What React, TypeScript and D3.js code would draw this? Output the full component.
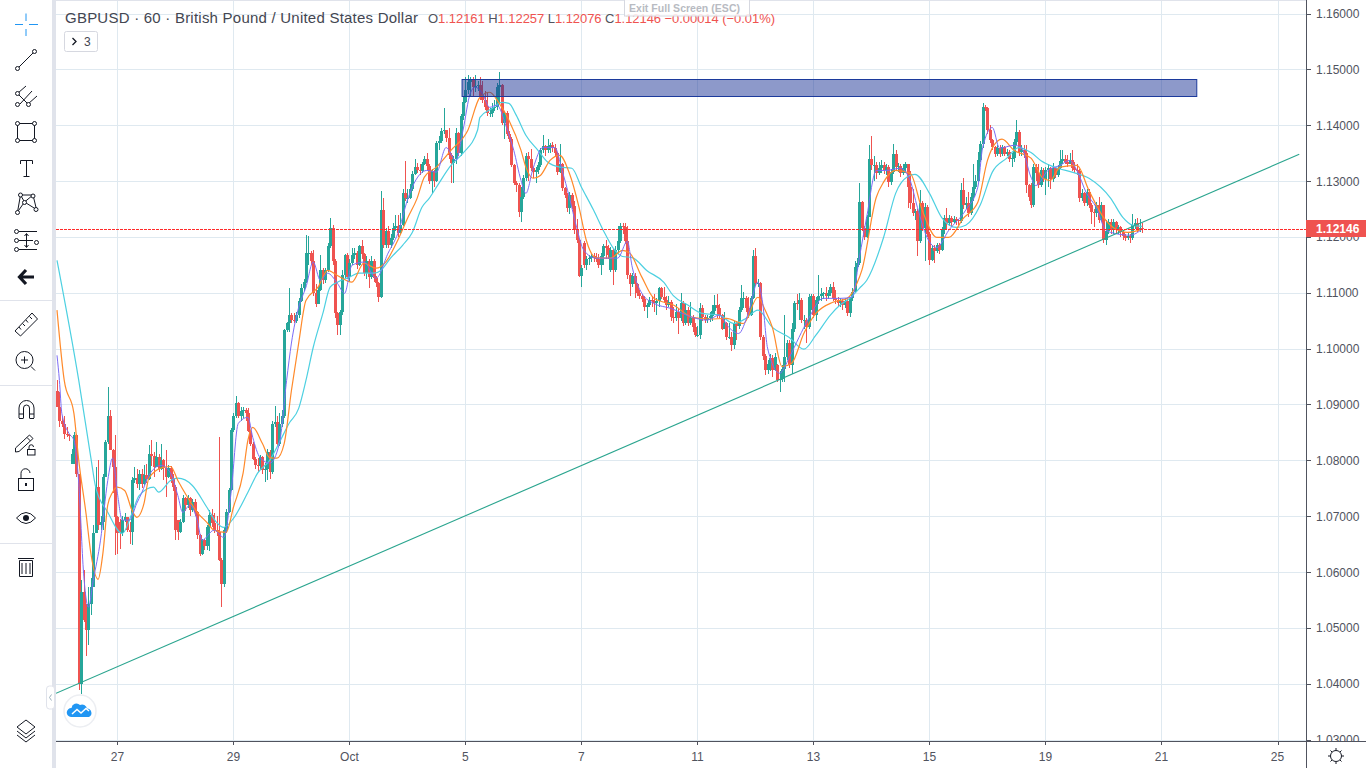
import React from "react";
import * as d3 from "d3";

// GBPUSD hourly candles. Prices are written in pips (10000 = 1.0000); one column per bar.
const firstOpen = 10925;
const closes = [
  10895,10871,10865,10848,10846,10844,10812,10845,10776,10400,
  10565,10514,10497,10543,10574,10669,10752,10684,10690,10770,
  10833,10879,10818,10788,10699,10669,10669,10693,10699,10675,
  10672,10764,10769,10758,10776,10758,10773,10767,10812,10808,
  10788,10806,10785,10800,10787,10770,10787,10767,10752,10675,
  10672,10690,10732,10720,10732,10711,10726,10708,10666,10633,
  10657,10647,10681,10702,10687,10675,10672,10622,10579,10675,
  10708,10746,10854,10879,10902,10880,10888,10890,10885,10853,
  10830,10803,10791,10790,10806,10782,10785,10815,10779,10865,
  10868,10830,10865,10880,11033,11045,11060,11052,11050,11060,
  11086,11108,11120,11171,11171,11156,11100,11080,11105,11141,
  11123,11141,11183,11216,11156,11063,11042,11066,11132,11168,
  11129,11153,11168,11171,11150,11183,11170,11135,11156,11129,
  11156,11126,11117,11093,11249,11186,11210,11186,11198,11216,
  11219,11207,11222,11279,11270,11270,11285,11312,11326,11320,
  11318,11330,11339,11327,11300,11318,11300,11368,11371,11389,
  11392,11377,11347,11332,11340,11386,11350,11416,11442,11463,
  11478,11481,11468,11470,11472,11450,11445,11433,11421,11421,
  11430,11432,11469,11472,11404,11421,11385,11376,11329,11296,
  11293,11245,11272,11305,11345,11340,11323,11317,11320,11329,
  11355,11362,11355,11362,11364,11360,11350,11317,11330,11287,
  11275,11251,11275,11255,11212,11195,11130,11145,11150,11160,
  11162,11165,11163,11160,11150,11165,11183,11180,11168,11177,
  11141,11177,11192,11219,11217,11192,11131,11115,11130,11115,
  11100,11094,11088,11074,11078,11087,11085,11082,11085,11108,
  11093,11087,11078,11084,11057,11055,11065,11055,11082,11045,
  11069,11045,11055,11039,11024,11024,11072,11057,11051,11055,
  11058,11067,11078,11072,11060,11036,11045,11021,11021,11006,
  11045,11040,11070,11090,11090,11072,11060,11090,11166,11117,
  11118,11020,10986,10962,10973,10984,10961,10985,10944,10945,
  10964,10985,11010,10970,11036,11081,11080,11087,11051,11052,
  11039,11093,11095,11060,11087,11094,11097,11100,11095,11100,
  11110,11090,11087,11081,11085,11078,11085,11063,11090,11102,
  11147,11153,11263,11216,11200,11236,11340,11328,11328,11314,
  11323,11328,11320,11325,11298,11317,11349,11326,11327,11315,
  11323,11330,11290,11260,11242,11247,11193,11260,11216,11254,
  11205,11159,11180,11174,11186,11176,11212,11233,11225,11233,
  11227,11232,11230,11228,11284,11257,11260,11242,11272,11290,
  11300,11338,11367,11433,11430,11391,11373,11361,11348,11360,
  11348,11361,11348,11352,11340,11342,11370,11388,11352,11355,
  11350,11293,11272,11257,11326,11315,11293,11320,11303,11320,
  11323,11303,11324,11311,11324,11336,11340,11334,11331,11337,
  11323,11320,11318,11269,11278,11260,11281,11257,11245,11243,
  11257,11230,11257,11195,11210,11227,11213,11226,11213,11217,
  11208,11201,11198,11202,11198,11222,11225,11213,11216,11214.6,
];
const highs = [
  10943,10922,10880,10880,10860,10848,10821,10850,10848,10776,
  10586,10604,10543,10574,10590,10684,10788,10800,10700,10776,
  10836,10931,10890,10820,10845,10700,10695,10700,10705,10699,
  10690,10770,10788,10785,10782,10785,10791,10794,10827,10837,
  10815,10833,10812,10830,10803,10818,10792,10790,10775,10755,
  10690,10695,10738,10735,10738,10735,10730,10730,10710,10668,
  10660,10660,10685,10711,10712,10705,10700,10842,10625,10680,
  10712,10750,10858,10885,10916,10905,10895,10895,10893,10893,
  10855,10832,10806,10805,10810,10808,10795,10820,10818,10870,
  10898,10880,10885,10890,11035,11048,11108,11063,11063,11065,
  11090,11115,11125,11204,11201,11175,11177,11115,11110,11168,
  11145,11145,11190,11234,11222,11160,11065,11070,11140,11170,
  11172,11160,11180,11180,11175,11186,11195,11172,11165,11160,
  11165,11160,11130,11120,11282,11270,11216,11219,11205,11225,
  11240,11240,11243,11285,11336,11285,11295,11318,11340,11332,
  11330,11335,11345,11350,11330,11322,11320,11372,11380,11395,
  11430,11392,11395,11350,11345,11395,11388,11420,11450,11487,
  11490,11487,11487,11490,11480,11486,11480,11462,11460,11431,
  11440,11445,11475,11496,11474,11425,11425,11390,11378,11330,
  11300,11297,11290,11310,11350,11352,11357,11325,11326,11335,
  11360,11382,11365,11376,11368,11370,11366,11352,11366,11333,
  11290,11278,11280,11278,11265,11232,11197,11150,11192,11165,
  11168,11170,11172,11172,11170,11172,11188,11195,11185,11182,
  11180,11183,11219,11225,11225,11225,11219,11135,11135,11135,
  11118,11105,11098,11095,11082,11092,11095,11097,11090,11111,
  11110,11110,11095,11095,11087,11075,11080,11072,11099,11085,
  11081,11075,11084,11060,11045,11040,11081,11078,11060,11060,
  11066,11078,11096,11097,11080,11062,11065,11048,11045,11030,
  11050,11050,11075,11114,11102,11095,11092,11095,11177,11180,
  11125,11120,11025,10990,10980,10990,10988,10992,10972,10960,
  10970,11060,11015,11015,11045,11085,11097,11100,11090,11060,
  11055,11098,11098,11097,11092,11132,11108,11102,11110,11105,
  11115,11120,11105,11092,11090,11088,11090,11088,11092,11108,
  11156,11162,11296,11265,11220,11240,11364,11380,11345,11335,
  11335,11338,11335,11330,11328,11322,11366,11355,11332,11330,
  11330,11335,11330,11318,11285,11250,11250,11284,11265,11260,
  11258,11208,11185,11185,11190,11190,11218,11240,11251,11240,
  11238,11238,11235,11232,11296,11305,11272,11280,11278,11330,
  11310,11352,11372,11439,11437,11433,11400,11375,11363,11365,
  11365,11365,11362,11358,11355,11350,11375,11409,11392,11365,
  11364,11365,11295,11296,11330,11330,11330,11325,11323,11325,
  11330,11325,11332,11326,11328,11355,11356,11346,11346,11350,
  11355,11335,11330,11322,11285,11280,11286,11285,11260,11250,
  11262,11272,11262,11255,11230,11232,11232,11232,11228,11222,
  11220,11212,11205,11208,11205,11241,11232,11234,11232,11225.7,
];
const lows = [
  10895,10860,10860,10839,10842,10835,10794,10794,10770,10389,
  10381,10510,10449,10470,10523,10574,10669,10675,10675,10675,
  10770,10830,10818,10741,10630,10633,10642,10665,10690,10672,
  10651,10648,10760,10750,10746,10750,10756,10760,10765,10790,
  10770,10788,10780,10782,10764,10735,10768,10760,10745,10658,
  10658,10670,10688,10710,10715,10700,10708,10700,10660,10628,
  10630,10640,10640,10638,10680,10670,10665,10620,10538,10574,
  10670,10705,10745,10850,10875,10875,10870,10875,10870,10850,
  10825,10800,10785,10780,10785,10775,10761,10765,10767,10775,
  10860,10825,10825,10860,10875,11030,11030,11045,11045,11045,
  11055,11083,11103,11118,11150,11150,11095,11075,11080,11103,
  11115,11118,11138,11180,11150,11055,11024,11024,11060,11125,
  11125,11120,11150,11160,11143,11148,11160,11130,11125,11108,
  11125,11120,11110,11084,11090,11180,11180,11180,11180,11195,
  11210,11200,11205,11220,11265,11260,11268,11283,11310,11315,
  11310,11315,11328,11320,11295,11279,11290,11298,11355,11368,
  11385,11370,11340,11297,11297,11330,11345,11345,11410,11440,
  11455,11451,11450,11460,11462,11445,11440,11428,11417,11415,
  11415,11425,11428,11440,11400,11376,11380,11370,11325,11293,
  11281,11236,11226,11268,11300,11300,11318,11305,11296,11312,
  11325,11350,11345,11350,11350,11352,11345,11310,11315,11282,
  11270,11245,11241,11250,11205,11190,11128,11111,11145,11140,
  11150,11155,11155,11155,11145,11132,11150,11160,11160,11138,
  11114,11138,11170,11190,11205,11188,11125,11094,11110,11090,
  11095,11088,11083,11068,11054,11075,11075,11066,11060,11075,
  11088,11081,11070,11075,11050,11045,11050,11027,11050,11040,
  11042,11040,11042,11030,11020,11021,11018,11050,11045,11046,
  11048,11050,11062,11055,11055,11033,11040,11015,11018,10996,
  11000,11015,11035,11065,11072,11065,11055,11058,11088,11112,
  11110,11015,10980,10952,10955,10960,10949,10960,10940,10922,
  10940,10940,10980,10965,10955,11030,11070,11051,11045,11035,
  11010,11035,11070,11055,11050,11080,11085,11088,11085,11088,
  11095,11085,11080,11075,11075,11070,11072,11058,11056,11085,
  11100,11140,11150,11210,11195,11198,11235,11320,11300,11303,
  11310,11315,11312,11310,11290,11293,11312,11318,11316,11308,
  11310,11315,11251,11250,11238,11230,11165,11190,11210,11156,
  11200,11150,11156,11154,11172,11170,11175,11205,11215,11220,
  11220,11225,11222,11222,11225,11250,11250,11235,11240,11265,
  11285,11298,11335,11360,11425,11385,11368,11356,11343,11345,
  11343,11345,11344,11345,11335,11325,11335,11365,11345,11345,
  11342,11278,11265,11252,11253,11300,11288,11290,11298,11275,
  11290,11285,11298,11305,11308,11322,11330,11330,11325,11330,
  11318,11315,11310,11262,11265,11255,11255,11252,11224,11218,
  11235,11225,11228,11190,11186,11205,11205,11205,11205,11205,
  11200,11195,11192,11195,11190,11195,11215,11208,11208,11207.6,
];
// Bars whose open sits away from the previous close.
const gapBars = [6, 7, 12, 26, 50, 218, 229, 298];
const gapOpens = [10794, 10794, 10543, 10690, 10693, 11190, 11141, 10970];

// Moving averages, read at the bars where the line bends.
const fastBars = [0,1,2,5,7,9,11,13,15,18,21,23,25,27,30,33,35,38,43,47,50,52,55,58,60,65,69,72,75,79,81,84,88,92,95,97,100,103,106,109,112,116,119,122,127,132,137,141,145,147,153,157,161,165,168,171,173,176,179,182,186,189,192,194,197,201,206,209,212,215,218,223,228,232,236,238,242,247,254,263,269,274,278,282,286,290,292,294,299,303,307,311,317,324,329,332,335,339,343,349,353,356,360,364,369,376,381,383,387,390,396,399,403,405,410,415,419,422,426,430,434,438,444,449];
const fastPrices = [10988,10943,10884,10848,10836,10759,10598,10537,10585,10657,10764,10804,10741,10693,10693,10723,10741,10773,10791,10777,10737,10707,10720,10693,10657,10675,10662,10741,10866,10877,10841,10805,10795,10830,10943,11010,11074,11110,11155,11122,11135,11117,11099,11149,11155,11126,11171,11206,11266,11289,11319,11316,11360,11337,11391,11457,11468,11457,11432,11436,11396,11355,11301,11278,11323,11360,11360,11319,11271,11217,11176,11162,11162,11162,11192,11146,11099,11081,11072,11056,11051,11060,11038,11027,11063,11119,11081,11001,10956,10984,11020,11054,11090,11090,11092,11163,11235,11319,11319,11323,11301,11253,11199,11181,11212,11248,11289,11360,11396,11359,11364,11360,11307,11292,11319,11328,11337,11319,11278,11253,11212,11206,11203,11214];
const midBars = [0,3,7,9,12,14,17,19,21,23,25,28,31,33,36,38,43,47,50,54,58,62,65,70,73,77,79,81,85,88,91,94,97,100,103,108,112,116,122,127,132,136,141,145,149,152,157,163,170,175,179,183,187,192,194,197,200,204,208,212,216,219,223,229,234,237,242,247,255,263,270,277,284,290,293,296,300,304,309,314,321,327,331,333,339,342,347,353,358,364,369,375,381,385,387,391,396,403,408,411,415,422,427,433,437,443,449];
const midPrices = [11069,10943,10884,10800,10705,10634,10587,10634,10720,10743,10752,10746,10711,10698,10723,10768,10786,10789,10764,10734,10707,10689,10675,10671,10716,10777,10836,10859,10830,10805,10804,10830,10925,11010,11086,11110,11140,11131,11119,11153,11144,11155,11194,11233,11269,11307,11325,11355,11391,11450,11459,11439,11409,11355,11325,11305,11310,11337,11346,11314,11253,11194,11163,11162,11176,11171,11128,11090,11078,11056,11053,11054,11045,11092,11069,11038,10968,10974,11027,11063,11083,11090,11117,11140,11271,11298,11319,11314,11248,11199,11199,11233,11262,11337,11359,11375,11355,11341,11305,11301,11325,11328,11283,11235,11217,11208,11214];
const slowBars = [0,9,14,16,21,27,31,34,40,42,47,50,56,62,66,69,73,79,83,88,92,96,100,103,106,110,113,116,121,125,131,134,138,143,147,151,154,158,163,168,174,175,180,184,187,190,194,199,203,208,213,217,222,226,230,234,238,244,251,255,261,267,274,280,285,290,296,303,309,314,320,324,328,332,335,342,347,352,355,361,366,372,376,382,387,393,398,403,407,414,420,427,436,441,445,449];
const slowPrices = [11158,10943,10805,10752,10707,10669,10705,10737,10752,10743,10764,10768,10755,10716,10689,10680,10696,10743,10777,10800,10832,10866,10893,10943,11002,11063,11110,11119,11128,11135,11135,11140,11162,11185,11208,11253,11269,11296,11328,11350,11391,11414,11430,11441,11439,11418,11382,11355,11334,11325,11323,11289,11248,11212,11181,11165,11163,11140,11119,11095,11078,11063,11060,11045,11054,11069,11038,11020,10999,11024,11060,11078,11090,11108,11122,11199,11278,11308,11312,11278,11235,11217,11221,11257,11316,11341,11360,11351,11337,11323,11316,11305,11269,11235,11221,11219];

// Drawings on the chart.
const trendBars = [-0.4, 514];
const trendPrices = [10383, 11348];
const zoneBars = [167.6, 471.6];
const zonePrices = [11482, 11451];
const lastPrice = 1.12146;

// Axes.
const priceTicks = [1.03,1.04,1.05,1.06,1.07,1.08,1.09,1.1,1.11,1.12,1.13,1.14,1.15,1.16];
const timeTickBars = [25,73,121,169,217,265,313,361,409,457,505];
const timeTickLabels = ["27","29","Oct","5","7","11","13","15","19","21","25"];

const UP = "#26a69a";
const DOWN = "#ef5350";
const GRID = "#dfe9f0";
const AXIS = "#50535e";
const FONT = "'Liberation Sans', Arial, sans-serif";
const ICON = "#131722";

const x = d3.scaleLinear().domain([0, 505]).range([57, 1277.5]);
const y = d3.scaleLinear().domain([1.03, 1.16]).range([739.6, 13.5]);
const yp = (p: number) => y(p / 10000);
const crisp = (v: number) => Math.round(v) + 0.5;

const maLine = (bars: number[], prices: number[]) =>
  d3.line<number>().x((b) => x(b)).y((_, i) => yp(prices[i])).curve(d3.curveMonotoneX)(bars) as string;

const Node = ({ cx, cy }: { cx: number; cy: number }) => (
  <circle cx={cx} cy={cy} r={2} fill="#fff" stroke={ICON} strokeWidth={1} />
);

function Toolbar() {
  const s = { fill: "none", stroke: ICON, strokeWidth: 1 };
  return (
    <g>
      <rect x={0} y={0} width={52} height={768} fill="#fff" />
      <rect x={52} y={0} width={4} height={768} fill="#e0e3eb" />
      {/* crosshair */}
      <path d="M26 13.5V21M26 29V36M15 24.5H23M29 24.5H38" fill="none" stroke="#2196f3" strokeWidth={1} />
      {/* trend line */}
      <path d="M18 68L34 52" {...s} /><Node cx={17.5} cy={68.5} /><Node cx={34.5} cy={51.5} />
      {/* gann fan */}
      <path d="M18 93L26 86M20 104L32 91M28 104L37 96M18 94L28 104" {...s} />
      <Node cx={17.5} cy={93.5} /><Node cx={17.5} cy={104.5} /><Node cx={28.5} cy={104.5} />
      {/* rectangle */}
      <rect x={17.5} y={123.5} width={17} height={17} {...s} />
      <Node cx={17.5} cy={123.5} /><Node cx={34.5} cy={123.5} /><Node cx={17.5} cy={140.5} /><Node cx={34.5} cy={140.5} />
      {/* text */}
      <path d="M20.5 164V160.5H32.5V164M26.5 160.5V176.5M23.5 176.5H29.5" {...s} />
      {/* pattern */}
      <path d="M17.5 212L20.5 195L33 195L36.5 209.5L24.5 202L20.5 195M33 195L24.5 202L17.5 212" {...s} />
      <Node cx={17.5} cy={212.5} /><Node cx={20.5} cy={195} /><Node cx={33} cy={196} /><Node cx={36} cy={209.5} /><Node cx={24.5} cy={202.5} />
      {/* prediction */}
      <path d="M19 231.5H37M19 249.5H37M19 240.5H33M26.5 234V247M24.5 236L26.5 233.5L28.5 236M24.5 245L26.5 247.5L28.5 245" {...s} />
      <Node cx={16.5} cy={231.5} /><Node cx={16.5} cy={240.5} /><Node cx={16.5} cy={249.5} /><Node cx={36.5} cy={242.5} />
      {/* back arrow */}
      <path d="M20 277H34M26 270L19.5 277L26 284" fill="none" stroke={ICON} strokeWidth={3.2} />
      <rect x={0} y={300} width={52} height={1} fill="#e0e3eb" />
      {/* ruler */}
      <path d="M15 331L32 313L37.5 319L20.5 336Z M19 327L21 329.5M22.5 323.5L25 326M26 320L28 322.5M29.5 316.5L32 319" {...s} />
      {/* zoom */}
      <circle cx={24.5} cy={360} r={8.5} {...s} />
      <path d="M21 360H28M24.5 356.5V363.5M31 366.5L35 370.5" {...s} />
      <rect x={0} y={385} width={52} height={1} fill="#e0e3eb" />
      {/* magnet */}
      <path d="M19 418V408A7.5 7.5 0 0 1 34 408V418M23.5 418V408A3 3 0 0 1 29.5 408V418M19 414H23.5M29.5 414H34M19 418.5H23.5M29.5 418.5H34" {...s} />
      {/* pencil lock */}
      <path d="M15.5 448L29.5 435L33 438.5L19 451.5L15.5 452Z M27 437.5L30.5 441" {...s} />
      <rect x={27.5} y={449.5} width={7.5} height={5.5} {...s} />
      <path d="M29 449.5V447A2.2 2.2 0 0 1 33.5 447" {...s} />
      {/* lock */}
      <rect x={18.5} y={478.5} width={15} height={12} {...s} />
      <path d="M21 478V473.5A4.5 4.5 0 0 1 30 473" {...s} />
      <rect x={25} y={483} width={2} height={3} fill={ICON} />
      {/* eye */}
      <path d="M16.5 518Q26 507 35.5 518Q26 529 16.5 518Z" {...s} />
      <circle cx={26} cy={518} r={3} fill={ICON} />
      <rect x={0} y={543} width={52} height={1} fill="#e0e3eb" />
      {/* trash */}
      <path d="M19.5 560.5H32.5V576.5H19.5ZM18 558.5H34M22 563V574M26 563V574M30 563V574" {...s} />
      {/* layers */}
      <path d="M26 720L35 727L26 734L17 727Z M17 731L26 738L35 731M17 735L26 742L35 735" {...s} />
    </g>
  );
}

export default function App() {
  const bars = closes.map((c, i) => {
    const gap = gapBars.indexOf(i);
    const o = gap >= 0 ? gapOpens[gap] : i === 0 ? firstOpen : closes[i - 1];
    const hi = Math.max(highs[i], o, c);
    const lo = Math.min(lows[i], o, c);
    return { i, o, c, hi, lo, color: c >= o ? UP : DOWN };
  });
  const trend = d3.line<number>().x((b) => x(b)).y((_, i) => yp(trendPrices[i]))(trendBars) as string;
  const lastY = y(lastPrice);

  return (
    <svg width={1366} height={768} style={{ position: "fixed", left: 0, top: 0, background: "#fff" }} fontFamily={FONT}>
      <defs>
        <clipPath id="plot"><rect x={56} y={1} width={1250} height={740} /></clipPath>
      </defs>

      {/* grid */}
      <g stroke={GRID} strokeWidth={1}>
        {priceTicks.map((t) => <line key={t} x1={56} x2={1306} y1={crisp(y(t))} y2={crisp(y(t))} />)}
        {timeTickBars.map((b) => <line key={b} x1={crisp(x(b))} x2={crisp(x(b))} y1={0} y2={741} />)}
      </g>
      <rect x={56} y={0} width={1310} height={1} fill="#e0e3eb" />

      <g clipPath="url(#plot)" shapeRendering="crispEdges">
        {/* candles */}
        {bars.map((b) => {
          const cx = Math.round(x(b.i));
          const top = Math.round(yp(Math.max(b.o, b.c)));
          const bottom = Math.round(yp(Math.min(b.o, b.c)));
          return (
            <g key={b.i} fill={b.color}>
              <rect x={cx} y={Math.round(yp(b.hi))} width={1} height={Math.max(1, Math.round(yp(b.lo)) - Math.round(yp(b.hi)))} />
              <rect x={cx - 1} y={top} width={3} height={Math.max(1, bottom - top)} />
            </g>
          );
        })}
      </g>
      <g clipPath="url(#plot)">
        {/* moving averages */}
        <path d={maLine(slowBars, slowPrices)} fill="none" stroke="#4dd0e1" strokeWidth={1.2} />
        <path d={maLine(midBars, midPrices)} fill="none" stroke="#ff8a2b" strokeWidth={1.2} />
        <path d={maLine(fastBars, fastPrices)} fill="none" stroke="#7b6cf6" strokeWidth={1} />
        {/* trend line */}
        <path d={trend} fill="none" stroke="#2ba58f" strokeWidth={1.1} />
        {/* supply zone */}
        <rect
          x={x(zoneBars[0])} width={x(zoneBars[1]) - x(zoneBars[0])}
          y={crisp(yp(zonePrices[0]))} height={Math.round(yp(zonePrices[1]) - yp(zonePrices[0]))}
          fill="rgba(28,52,150,0.5)" stroke="#1c3a9c" strokeWidth={1}
        />
        {/* last price line */}
        <path d={`M56 ${crisp(lastY)}H1306`} fill="none" stroke="#ff2a2a" strokeWidth={1} strokeDasharray="2.5 1.5" shapeRendering="crispEdges" />
      </g>

      {/* legend */}
      <text x={65} y={23} fontSize={15} fill="#434651" textLength={353} lengthAdjust="spacing">GBPUSD · 60 · British Pound / United States Dollar</text>
      <text x={428} y={23} fontSize={13} fill={DOWN} textLength={347} lengthAdjust="spacing">
        <tspan fill={AXIS}>O</tspan>1.12161 <tspan fill={AXIS}>H</tspan>1.12257 <tspan fill={AXIS}>L</tspan>1.12076 <tspan fill={AXIS}>C</tspan>1.12146 −0.00014 (−0.01%)
      </text>
      <rect x={64.5} y={31.5} width={33} height={20} rx={2} fill="#fff" stroke="#d6d8e0" />
      <path d="M72.5 38L76 41.5L72.5 45" fill="none" stroke={ICON} strokeWidth={1.3} />
      <text x={84} y={46} fontSize={12} fill="#434651">3</text>

      {/* fullscreen hint */}
      <rect x={624.5} y={-2} width={125} height={18} fill="rgba(255,255,255,0.85)" stroke="#d6d8e0" />
      <text x={629} y={12} fontSize={10.5} fontWeight={700} fill="#b8bbc2" textLength={111} lengthAdjust="spacing">Exit Full Screen (ESC)</text>

      {/* price axis */}
      <rect x={1307} y={0} width={59} height={741} fill="#fff" />
      <rect x={1306} y={0} width={1} height={768} fill={AXIS} />
      {priceTicks.map((t) => (
        <g key={t}>
          <line x1={1307} x2={1311} y1={crisp(y(t))} y2={crisp(y(t))} stroke={AXIS} />
          <text x={1316} y={y(t) + 4.5} fontSize={12} fill={AXIS}>{t.toFixed(5)}</text>
        </g>
      ))}
      <rect x={1306} y={220} width={60} height={17} fill={DOWN} />
      <text x={1316} y={232.5} fontSize={12} fontWeight={700} fill="#fff">{lastPrice.toFixed(5)}</text>

      {/* time axis */}
      <rect x={56} y={741} width={1310} height={27} fill="#fff" />
      <rect x={56} y={741} width={1310} height={1} fill={AXIS} />
      <rect x={1306} y={741} width={1} height={27} fill={AXIS} />
      {timeTickBars.map((b, i) => (
        <g key={b}>
          <line x1={crisp(x(b))} x2={crisp(x(b))} y1={742} y2={745} stroke={AXIS} />
          <text x={x(b)} y={761} fontSize={12} textAnchor="middle" fill={AXIS}>{timeTickLabels[i]}</text>
        </g>
      ))}
      {/* settings gear */}
      <circle cx={1336} cy={756} r={5.5} fill="none" stroke={ICON} />
      <path d="M1336 748V750M1336 762V764M1328 756H1330M1342 756H1344M1330.5 750.5L1332 752M1340 760L1341.5 761.5M1341.5 750.5L1340 752M1332 760L1330.5 761.5" fill="none" stroke={ICON} />

      <Toolbar />

      {/* collapse handle */}
      <rect x={46.5} y={686} width={8} height={23} rx={3} fill="#fff" stroke="#e0e3eb" />
      <path d="M51.5 694.5L49.5 697.5L51.5 700.5" fill="none" stroke="#9db2bd" />

      {/* logo */}
      <circle cx={80} cy={711} r={16} fill="#fff" stroke="#eceef2" strokeWidth={1.5} />
      <path d="M71 717A4.5 4.5 0 0 1 71.5 708A5 5 0 0 1 80 705A5 5 0 0 1 87 708.5A4.5 4.5 0 0 1 89 717Z" fill="#2196f3" />
      <path d="M72 714L77 709.5L81 713L86 708.5L89 711" fill="none" stroke="#fff" strokeWidth={1.5} />
    </svg>
  );
}
